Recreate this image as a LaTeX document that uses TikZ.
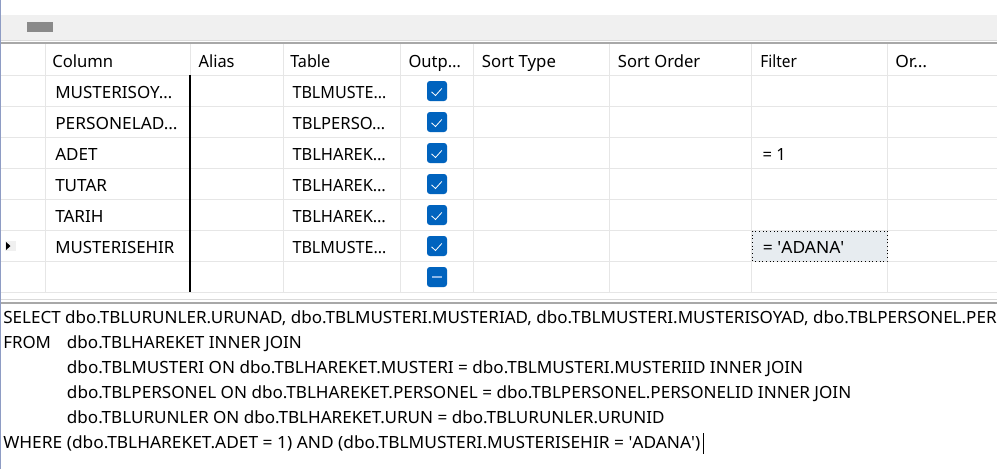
\documentclass[tikz,border=0pt]{standalone}
\usepackage{graphicx}
\usepackage{fontspec}
\setmainfont{Noto Sans}
\newcommand\fitw[2]{\resizebox{#1pt}{\height}{#2}}
\newcommand\sq{\textquotesingle}
\definecolor{bandgray}{HTML}{F0F0F0}
\definecolor{gridline}{HTML}{E6E6E6}
\definecolor{sepdark}{HTML}{A8A8A8}
\definecolor{seplight}{HTML}{DADADA}
\definecolor{edgeblue}{HTML}{8E9CC4}
\definecolor{cbblue}{HTML}{0063BE}
\definecolor{cblight}{HTML}{8DB8E8}
\definecolor{selfill}{HTML}{E7ECF0}
\definecolor{thumb}{HTML}{8A8A8A}
\begin{document}
\begin{tikzpicture}[x=0.75pt,y=-0.75pt,
  txt/.style={anchor=base west,inner sep=0pt,font=\fontsize{12.6}{15}\selectfont},
  sqltxt/.style={anchor=base west,inner sep=0pt,font=\fontsize{12.6}{15}\selectfont},
  gline/.style={draw=gridline,line width=0.75pt},
  cbox/.style={fill=cbblue,rounded corners=2.2pt}]
\useasboundingbox (0,0) rectangle (997,469);
\fill[white] (0,0) rectangle (997,469);
% top band
\fill[bandgray] (0,15) rectangle (997,40);
\fill[thumb] (27,22) rectangle (53,32);
\draw[seplight,line width=0.75pt] (0,40.5) -- (997,40.5);
\draw[sepdark,line width=1pt] (0,43) -- (997,43);
% grid horizontal lines
\foreach \yy in {75,106,137,168,199,230,261,292}
  \draw[gline] (0,\yy) -- (997,\yy);
% grid vertical lines
\foreach \xx in {45,283,400,473,609,751,887}
  \draw[gline] (\xx,44) -- (\xx,292);
\draw[gline] (190,44) -- (190,75);
\draw[black,line width=0.9pt] (190,75) -- (190,292);
% selected cell
\fill[selfill] (752,231) rectangle (887,261);
\draw[black,line width=0.75pt,dotted] (752.5,231) rectangle (887,261.5);
% row indicator
\fill[bandgray] (5,241) rectangle (16,251);
\fill[black] (6,242) -- (10.5,246) -- (6,250) -- cycle;
% headers
\node[txt] (hcol) at (52,67) {\fitw{45.75}{Column}};
\node[txt] (halias) at (198.3,67) {\fitw{27}{Alias}};
\node[txt] (htab) at (290,67) {\fitw{30}{Table}};
\node[txt] (hout) at (408.3,67) {\fitw{39.3}{Outp…}};
\node[txt] (hst) at (481.7,67) {\fitw{55.5}{Sort Type}};
\node[txt] (hso) at (617.7,67) {\fitw{61.7}{Sort Order}};
\node[txt] (hfil) at (760,67) {\fitw{27.5}{Filter}};
\node[txt] (hor) at (895,67) {\fitw{23.8}{Or…}};
% rows
\node[txt] (c1) at (55,98) {\fitw{87.75}{MUSTERISOY…}};
\node[txt] (c2) at (55,129) {\fitw{91.7}{PERSONELAD…}};
\node[txt] (c3) at (55,160) {\fitw{31.7}{ADET}};
\node[txt] (c4) at (55,191) {\fitw{38.8}{TUTAR}};
\node[txt] (c5) at (55,222) {\fitw{36.2}{TARIH}};
\node[txt] (c6) at (55,253) {\fitw{89.25}{MUSTERISEHIR}};
\node[txt] (t1) at (292.3,98) {\fitw{70.3}{TBLMUSTE…}};
\node[txt] (t2) at (292.3,129) {\fitw{69.5}{TBLPERSO…}};
\node[txt] (t3) at (292.3,160) {\fitw{70}{TBLHAREK…}};
\node[txt] (t4) at (292.3,191) {\fitw{70}{TBLHAREK…}};
\node[txt] (t5) at (292.3,222) {\fitw{70}{TBLHAREK…}};
\node[txt] (t6) at (292.3,253) {\fitw{70.3}{TBLMUSTE…}};
\node[txt] (f3) at (762.3,160) {\fitw{17.5}{= 1}};
\node[txt] (f6) at (762.7,253) {\fitw{61}{= \sq ADANA\sq}};
% checkboxes
\foreach \cy in {91,122,153,184,215,246}{
  \fill[cbox] (427,\cy-10) rectangle (447,\cy+10);
  \draw[white,line width=0.6pt] (431.5,\cy+0.8) -- (435.5,\cy+4.5) -- (441.8,\cy-2.5);
}
\fill[cbox] (427,267) rectangle (447,287);
\draw[cblight,line width=2pt] (432,277) -- (442,277);
% bottom separator
\draw[seplight,line width=0.75pt] (0,299) -- (997,299);
\draw[sepdark,line width=1.3pt] (0,302.8) -- (997,302.8);
% SQL text
\node[sqltxt] (s1) at (3,323) {\fitw{745}{SELECT dbo.TBLURUNLER.URUNAD, dbo.TBLMUSTERI.MUSTERIAD, dbo.TBLMUSTERI.MUSTERISOYAD, dbo.TBLPERSONEL.PER}};
\node[sqltxt] (s2a) at (3,348) {\fitw{35.8}{FROM}};
\node[sqltxt] (s2) at (66.7,348) {\fitw{176.25}{dbo.TBLHAREKET INNER JOIN}};
\node[sqltxt] (s3) at (66.7,373) {\fitw{552.2}{dbo.TBLMUSTERI ON dbo.TBLHAREKET.MUSTERI = dbo.TBLMUSTERI.MUSTERIID INNER JOIN}};
\node[sqltxt] (s4) at (66.7,398) {\fitw{588.2}{dbo.TBLPERSONEL ON dbo.TBLHAREKET.PERSONEL = dbo.TBLPERSONEL.PERSONELID INNER JOIN}};
\node[sqltxt] (s5) at (66.7,423) {\fitw{448.2}{dbo.TBLURUNLER ON dbo.TBLHAREKET.URUN = dbo.TBLURUNLER.URUNID}};
\node[sqltxt] (s6) at (3,448) {\fitw{522.75}{WHERE (dbo.TBLHAREKET.ADET = 1) AND (dbo.TBLMUSTERI.MUSTERISEHIR = \sq ADANA\sq)}};
\coordinate (curtop) at ([xshift=2pt]s6.east |- 0,433);
\coordinate (curbot) at ([xshift=2pt]s6.east |- 0,454);
\draw[black,line width=0.8pt] (curtop) -- (curbot);
% left edge
\draw[edgeblue,line width=1.2pt] (0.6,0) -- (0.6,469);
\end{tikzpicture}
\end{document}
